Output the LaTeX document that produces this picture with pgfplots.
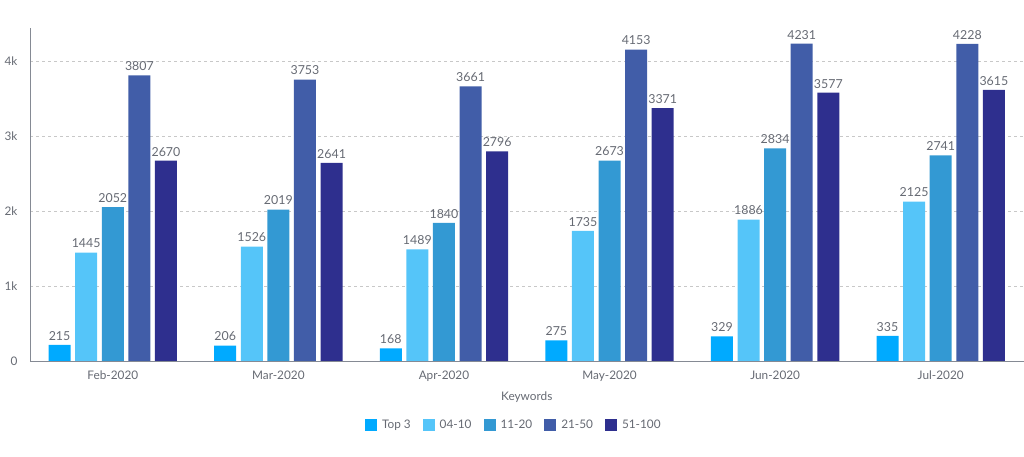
\documentclass[border=0pt]{standalone}
\usepackage{fontspec}
\setmainfont{Lato}
\usepackage{pgfplots}
\pgfplotsset{compat=1.18}
\definecolor{cA}{HTML}{00AAFF}
\definecolor{cB}{HTML}{55C5F9}
\definecolor{cC}{HTML}{3399D3}
\definecolor{cD}{HTML}{415DA8}
\definecolor{cE}{HTML}{2E2F8E}
\definecolor{axgray}{HTML}{858A94}
\definecolor{gridgray}{HTML}{C8C8C8}
\definecolor{txtgray}{HTML}{666A73}
\begin{document}
\begin{tikzpicture}[x=1pt,y=1pt]
\path (0,0) rectangle (1024,457);
\begin{axis}[
  at={(30pt,96pt)}, anchor=south west,
  width=993.5pt, height=333pt, scale only axis,
  xmin=-0.5, xmax=5.5, ymin=0, ymax=4440,
  clip=false,
  ybar=4.6pt, bar width=22pt,
  axis x line*=bottom, axis y line*=left,
  axis line style={draw=axgray, line width=0.8pt},
  xtick={0,1,2,3,4,5},
  xticklabels={Feb-2020,Mar-2020,Apr-2020,May-2020,Jun-2020,Jul-2020},
  ytick={0,1000,2000,3000,4000},
  yticklabels={0,1k,2k,3k,4k},
  major tick length=0pt,
  ymajorgrids, grid style={dashed, gridgray, line width=0.6pt},
  tick label style={font=\fontsize{11.8}{14}\selectfont, text=txtgray},
  yticklabel style={xshift=-9pt},
  xticklabel style={yshift=-6.5pt},
  xlabel={Keywords},
  xlabel style={at={(axis description cs:0.5,-0.11)}, anchor=center, font=\fontsize{11.8}{14}\selectfont, text=txtgray},
  nodes near coords,
  nodes near coords style={font=\fontsize{12.4}{14}\selectfont, text=txtgray, yshift=1pt},
  /pgf/number format/assume math mode=true,
  /pgf/number format/1000 sep={},
  legend style={at={(0.487,-0.193)}, anchor=center, draw=none,
    font=\fontsize{11.8}{14}\selectfont, text=txtgray,
    /tikz/every odd column/.append style={column sep=3pt},
    /tikz/every even column/.append style={column sep=10pt}},
  legend columns=-1,
  legend image code/.code={\path[#1, draw=none] (0pt,-6pt) rectangle (12pt,6pt);},
]
\addplot[fill=cA, draw=none] coordinates {(0,215) (1,206) (2,168) (3,275) (4,329) (5,335)};
\addplot[fill=cB, draw=none] coordinates {(0,1445) (1,1526) (2,1489) (3,1735) (4,1886) (5,2125)};
\addplot[fill=cC, draw=none] coordinates {(0,2052) (1,2019) (2,1840) (3,2673) (4,2834) (5,2741)};
\addplot[fill=cD, draw=none] coordinates {(0,3807) (1,3753) (2,3661) (3,4153) (4,4231) (5,4228)};
\addplot[fill=cE, draw=none] coordinates {(0,2670) (1,2641) (2,2796) (3,3371) (4,3577) (5,3615)};
\legend{Top 3,04-10,11-20,21-50,51-100}
\end{axis}
\end{tikzpicture}
\end{document}
